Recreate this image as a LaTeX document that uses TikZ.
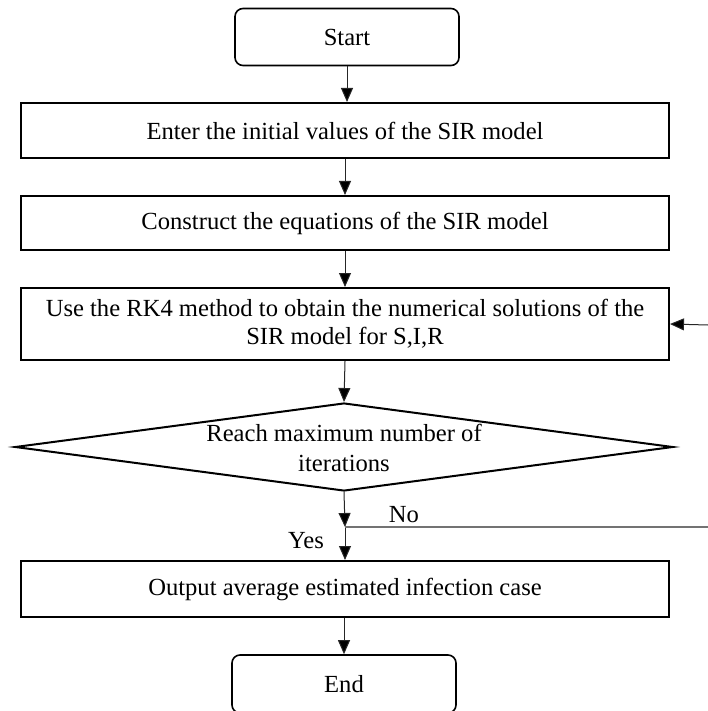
\documentclass[tikz,border=0pt]{standalone}
\usepackage{fontspec}
\setmainfont{Liberation Serif}
\usetikzlibrary{arrows.meta,shapes.geometric}
\begin{document}
\begin{tikzpicture}[x=1pt,y=-1pt,
  every node/.style={font=\fontsize{24.6}{28}\selectfont},
  procbox/.style={draw=black,line width=2pt,minimum width=648pt,minimum height=55pt,inner sep=0pt,align=center},
  termbox/.style={draw=black,line width=1.6pt,rounded corners=8pt,minimum width=224pt,minimum height=57pt,inner sep=0pt},
  conn/.style={draw=black!85,line width=1pt,-{Triangle[width=12pt,length=14pt,fill=black]}},
  plainline/.style={draw=black!55,line width=1.2pt},
  lbl/.style={inner sep=0pt}]
\useasboundingbox (0,0) rectangle (708,711);
\node[termbox] (start) at (347,37) {Start};
\node[procbox] (b1) at (345,130.5) {Enter the initial values of the SIR model};
\node[procbox,minimum height=54pt] (b2) at (345,223) {Construct the equations of the SIR model};
\node[procbox,minimum height=72pt] (b3) at (345,324) {Use the RK4 method to obtain the numerical solutions of the\\SIR model for S,I,R};
\node[draw=black,line width=2pt,diamond,aspect=7.37,minimum width=658pt,minimum height=88pt,inner sep=0pt,align=center] (dec) at (344,447) {};
\node[lbl] (dt1) at (344,433) {Reach maximum number of};
\node[lbl] (dt2) at (344,463) {iterations};
\node[procbox,minimum height=56pt] (b4) at (345,589) {Output average estimated infection case};
\node[termbox,minimum height=58pt] (end) at (344,684) {End};
\coordinate (j) at (345,527);
\coordinate (noend) at (708,527);
\coordinate (fbin) at (708,325);
\draw[conn] (start.south) -- (start.south |- b1.north);
\draw[conn] (b1.south) -- (b2.north);
\draw[conn] (b2.south) -- (b3.north);
\draw[conn] (b3.south) -- (dec.north);
\draw[conn] (dec.south) -- (j);
\draw[conn] (j) -- (b4.north);
\draw[plainline] (j) -- (noend);
\draw[conn] (fbin) -- (b3.east);
\draw[conn] (end.north |- b4.south) -- (end.north);
\node[lbl] (no) at (404,515) {No};
\node[lbl] (yes) at (306,541) {Yes};
\end{tikzpicture}
\end{document}
